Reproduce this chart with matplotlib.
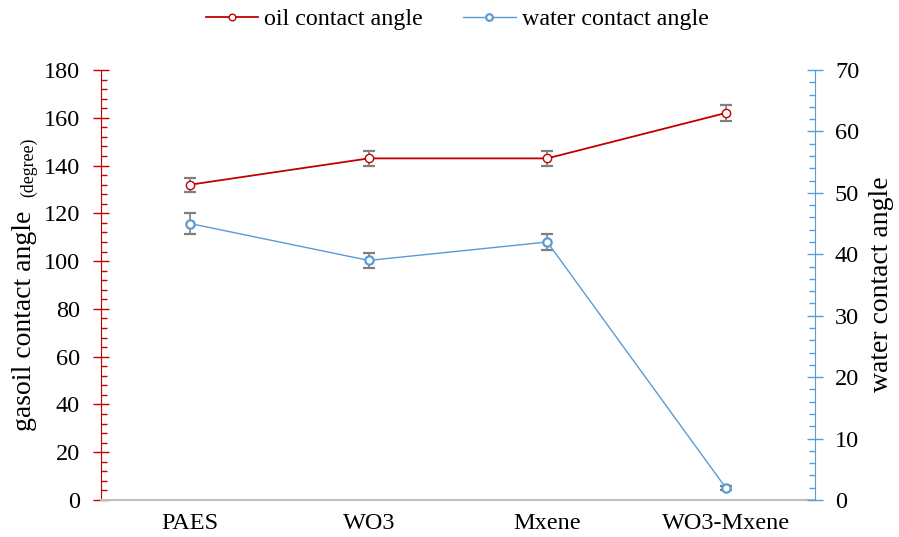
import numpy as np
import matplotlib
matplotlib.use("Agg")
import matplotlib.pyplot as plt
from matplotlib.ticker import MultipleLocator

plt.rcParams["font.family"] = ["Liberation Serif", "DejaVu Serif"]

categories = ["PAES", "WO3", "Mxene", "WO3-Mxene"]
oil_angle = [132, 143, 143, 162]
oil_err = [3, 3, 3, 3.5]
water_angle = [45, 39, 42, 2]
water_err = [1.7, 1.2, 1.3, 0.3]

RED = "#C00000"
BLUE = "#5B9BD5"
GRAY = "#7F7F7F"

fig = plt.figure(figsize=(8.99, 5.37), dpi=100)
ax = fig.add_axes([101 / 899, 1 - 500 / 537, (815 - 101) / 899, 430 / 537])
ax2 = ax.twinx()

x = np.arange(len(categories))

ax.errorbar(x, oil_angle, yerr=oil_err, fmt="none", ecolor=GRAY, elinewidth=1.2,
            capsize=4.6, capthick=1.6, zorder=2)
l1, = ax.plot(x, oil_angle, color=RED, lw=1.3, marker="o", ms=6.0, mfc="white",
              mec=RED, mew=1.0, zorder=3, label="oil contact angle")

ax2.errorbar(x, water_angle, yerr=water_err, fmt="none", ecolor=GRAY, elinewidth=1.2,
             capsize=4.6, capthick=1.6, zorder=2)
l2, = ax2.plot(x, water_angle, color=BLUE, lw=1.0, marker="o", ms=6.0, mfc="white",
               mec=BLUE, mew=1.6, zorder=3, label="water contact angle")

ax.set_xlim(-0.5, len(categories) - 0.5)
ax.set_ylim(0, 180)
ax2.set_ylim(0, 70)
ax.set_xticks(x)
ax.set_xticklabels(categories)
ax.tick_params(axis="x", length=0, labelsize=17.5, pad=9.4)

ax.yaxis.set_major_locator(MultipleLocator(20))
ax.yaxis.set_minor_locator(MultipleLocator(4))
ax2.yaxis.set_major_locator(MultipleLocator(10))
ax2.yaxis.set_minor_locator(MultipleLocator(2))

ax.tick_params(axis="y", which="major", direction="inout", length=11.5, width=1.0,
               color=RED, labelsize=17.5, pad=9.4)
ax.tick_params(axis="y", which="minor", direction="in", length=4, width=1.0, color=RED)
ax2.tick_params(axis="y", which="major", direction="inout", length=11.5, width=1.0,
                color=BLUE, labelsize=17.5, pad=8.6)
ax2.tick_params(axis="y", which="minor", direction="in", length=4, width=1.0, color=BLUE)

for a in (ax, ax2):
    a.spines["top"].set_visible(False)
ax.spines["right"].set_visible(False)
ax2.spines["left"].set_visible(False)
ax2.spines["bottom"].set_visible(False)
ax.spines["left"].set_color(RED)
ax2.spines["right"].set_color(BLUE)
ax.spines["bottom"].set_color("#BFBFBF")
ax.spines["bottom"].set_linewidth(1.5)

# axis titles
fig.text(882 / 899, 1 - 284 / 537, "water contact angle", rotation=90, fontsize=20,
         ha="center", va="center")
fig.text(25 / 899, 1 - 431 / 537, "gasoil contact angle", rotation=90, fontsize=20,
         ha="center", va="bottom")
fig.text(28.5 / 899, 1 - 197 / 537, "(degree)", rotation=90, fontsize=12.8,
         ha="center", va="bottom")

fig.legend(handles=[l1, l2], loc="center", bbox_to_anchor=(457 / 899, 1 - 19 / 537), ncol=2,
           frameon=False, fontsize=17.3, handlelength=2.17, columnspacing=1.7,
           handletextpad=0.25, markerscale=0.8, borderpad=0)

fig.savefig("out.png", dpi=100)
